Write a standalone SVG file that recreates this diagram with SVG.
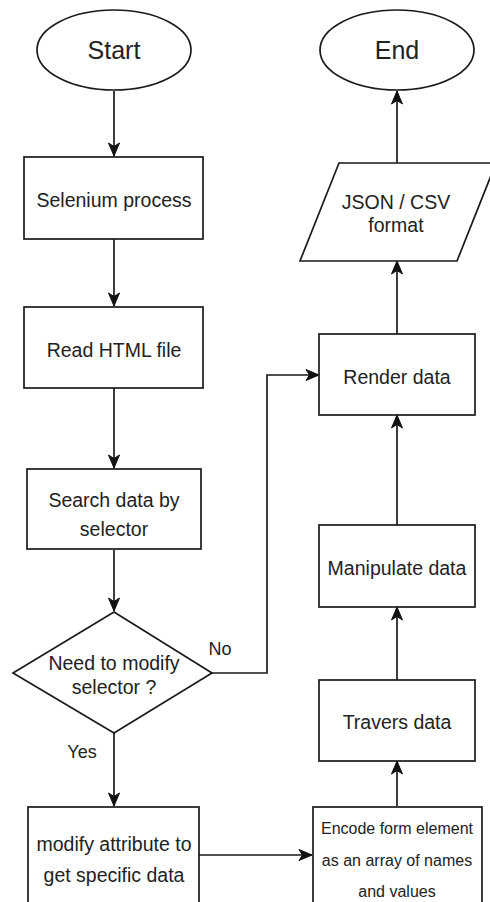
<svg xmlns="http://www.w3.org/2000/svg" width="490" height="902" viewBox="0 0 490 902">
  <defs>
    <marker id="arrow" markerUnits="userSpaceOnUse" markerWidth="16" markerHeight="16" viewBox="0 0 16 16" refX="14" refY="8" orient="auto">
      <path d="M1,2.5 L14,8 L1,13.5 L4.5,8 Z" fill="#111" stroke="#111" stroke-width="1"/>
    </marker>
    <style>
      .shape { fill: #ffffff; stroke: #1a1a1a; stroke-width: 1.7; }
      .edge { fill: none; stroke: #1a1a1a; stroke-width: 1.7; marker-end: url(#arrow); }
      text { font-family: "Liberation Sans", Arial, sans-serif; fill: #222; text-anchor: middle; dominant-baseline: central; }
      .t19 { font-size: 19.5px; }
      .t25 { font-size: 25px; }
      .t18 { font-size: 18px; }
      .t16 { font-size: 16px; }
    </style>
  </defs>
  <rect width="490" height="902" fill="#ffffff"/>

  <!-- connectors -->
  <g id="connectors">
    <path class="edge" d="M114,91 L114,156"/>
    <path class="edge" d="M114,239 L114,306"/>
    <path class="edge" d="M114,388 L114,468"/>
    <path class="edge" d="M114,550 L114,611"/>
    <path class="edge" d="M114,733 L114,806"/>
    <path class="edge" d="M212,673 L267,673 L267,375 L319,375"/>
    <path class="edge" d="M199,855 L312,855"/>
    <path class="edge" d="M397,806 L397,761"/>
    <path class="edge" d="M397,680 L397,607"/>
    <path class="edge" d="M397,525 L397,415"/>
    <path class="edge" d="M397,334 L397,261"/>
    <path class="edge" d="M397,163 L397,91"/>
    <text class="t18" x="220" y="649">No</text>
    <text class="t18" x="82" y="752">Yes</text>
  </g>

  <g id="start">
    <ellipse class="shape" cx="114" cy="50" rx="77" ry="40"/>
    <text class="t25" x="114" y="50">Start</text>
  </g>

  <g id="selenium">
    <rect class="shape" x="24" y="157" width="179" height="82"/>
    <text class="t19" x="114" y="200">Selenium process</text>
  </g>

  <g id="read-html">
    <rect class="shape" x="24" y="307" width="179" height="81"/>
    <text class="t19" x="114" y="350">Read HTML file</text>
  </g>

  <g id="search">
    <rect class="shape" x="27" y="469" width="174" height="80"/>
    <text class="t19" x="114" y="500">Search data by</text>
    <text class="t19" x="114" y="529">selector</text>
  </g>

  <g id="decision">
    <polygon class="shape" points="114,612 212,673 114,733 13,673"/>
    <text class="t19" x="114" y="663">Need to modify</text>
    <text class="t19" x="114" y="687">selector ?</text>
  </g>

  <g id="modify">
    <rect class="shape" x="28" y="807" width="171" height="110"/>
    <text class="t19" x="114" y="844">modify attribute to</text>
    <text class="t19" x="114" y="875">get specific data</text>
  </g>

  <g id="encode">
    <rect class="shape" x="313" y="807" width="169" height="110"/>
    <text class="t16" x="397" y="828">Encode form element</text>
    <text class="t16" x="397" y="860">as an array of names</text>
    <text class="t16" x="397" y="891">and values</text>
  </g>

  <g id="travers">
    <rect class="shape" x="319" y="680" width="156" height="81"/>
    <text class="t19" x="397" y="722">Travers data</text>
  </g>

  <g id="manipulate">
    <rect class="shape" x="319" y="525" width="156" height="82"/>
    <text class="t19" x="397" y="568">Manipulate data</text>
  </g>

  <g id="render">
    <rect class="shape" x="319" y="334" width="156" height="81"/>
    <text class="t19" x="397" y="377">Render data</text>
  </g>

  <g id="output-format">
    <polygon class="shape" points="339,163 496,163 457,261 300,261"/>
    <text class="t19" x="396" y="202">JSON / CSV</text>
    <text class="t19" x="396" y="225">format</text>
  </g>

  <g id="end">
    <ellipse class="shape" cx="397" cy="50" rx="77" ry="40"/>
    <text class="t25" x="397" y="50">End</text>
  </g>
</svg>
